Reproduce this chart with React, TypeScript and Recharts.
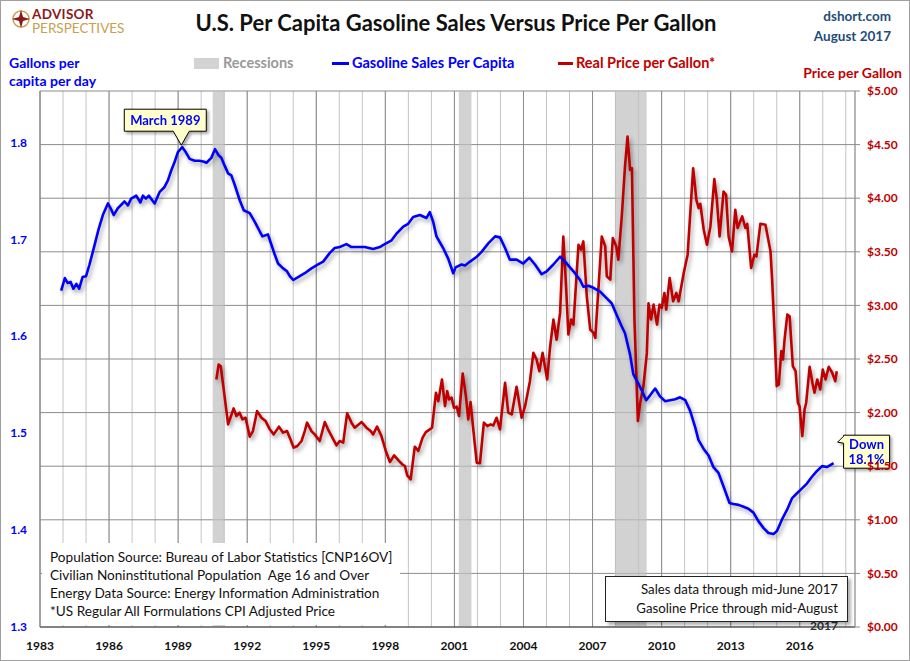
import { LineChart, Line, XAxis, YAxis, CartesianGrid, ReferenceArea, ReferenceLine, ReferenceDot } from 'recharts';

// gallons per capita per day (decimal year, value)
const salesDates = [
  1983.92, 1984.08, 1984.2, 1984.33, 1984.45, 1984.58, 1984.7, 1984.85, 1985.0, 1985.15,
  1985.37, 1985.54, 1985.73, 1985.95, 1986.07, 1986.2, 1986.38, 1986.67, 1986.82, 1986.96,
  1987.18, 1987.36, 1987.47, 1987.6, 1987.73, 1987.98, 1988.2, 1988.41, 1988.56, 1988.7,
  1988.85, 1988.99, 1989.18, 1989.33, 1989.5, 1989.72, 1989.93, 1990.13, 1990.23, 1990.44,
  1990.6, 1990.75, 1990.88, 1991.02, 1991.17, 1991.31, 1991.46, 1991.68, 1991.85, 1992.11,
  1992.33, 1992.55, 1992.66, 1992.9, 1993.0, 1993.2, 1993.34, 1993.56, 1993.73, 1993.85,
  1994.0, 1994.21, 1994.5, 1994.79, 1995.08, 1995.3, 1995.59, 1995.8, 1996.02, 1996.31,
  1996.53, 1996.75, 1997.11, 1997.47, 1997.76, 1997.9, 1998.27, 1998.49, 1998.78, 1998.99,
  1999.21, 1999.5, 1999.79, 1999.93, 2000.08, 2000.22, 2000.51, 2000.73, 2000.95, 2001.05,
  2001.31, 2001.46, 2001.68, 2001.97, 2002.18, 2002.48, 2002.77, 2002.98, 2003.2, 2003.41,
  2003.7, 2003.99, 2004.25, 2004.5, 2004.79, 2005.01, 2005.3, 2005.59, 2005.88, 2006.17,
  2006.46, 2006.6, 2006.82, 2007.04, 2007.33, 2007.62, 2007.83, 2008.05, 2008.25, 2008.41,
  2008.63, 2008.77, 2008.99, 2009.14, 2009.33, 2009.5, 2009.72, 2009.93, 2010.15, 2010.37,
  2010.59, 2010.8, 2011.03, 2011.24, 2011.46, 2011.6, 2011.82, 2012.04, 2012.25, 2012.47,
  2012.69, 2012.95, 2013.12, 2013.34, 2013.56, 2013.77, 2013.99, 2014.21, 2014.43, 2014.64,
  2014.86, 2015.01, 2015.23, 2015.45, 2015.67, 2015.88, 2016.1, 2016.31, 2016.53, 2016.75,
  2016.97, 2017.18, 2017.47,
];
const salesValues = [
  1.647, 1.66, 1.655, 1.656, 1.649, 1.654, 1.649, 1.661, 1.662, 1.674,
  1.694, 1.71, 1.725, 1.737, 1.732, 1.725, 1.732, 1.739, 1.735, 1.742,
  1.745, 1.738, 1.745, 1.742, 1.745, 1.737, 1.749, 1.754, 1.761, 1.771,
  1.78, 1.79, 1.795, 1.79, 1.783, 1.781, 1.781, 1.78, 1.779, 1.784,
  1.793, 1.787, 1.784, 1.776, 1.768, 1.766, 1.756, 1.74, 1.73, 1.727,
  1.718, 1.708, 1.703, 1.705, 1.698, 1.684, 1.675, 1.67, 1.667, 1.662,
  1.658, 1.661, 1.665, 1.67, 1.674, 1.677, 1.686, 1.691, 1.692, 1.695,
  1.692, 1.692, 1.692, 1.69, 1.692, 1.694, 1.699, 1.706, 1.713, 1.716,
  1.723, 1.725, 1.722, 1.728, 1.718, 1.703, 1.691, 1.68, 1.665, 1.671,
  1.674, 1.673, 1.677, 1.682, 1.687, 1.696, 1.703, 1.702, 1.691, 1.679,
  1.679, 1.675, 1.681, 1.674, 1.664, 1.667, 1.674, 1.682, 1.675, 1.667,
  1.658, 1.651, 1.652, 1.65, 1.646, 1.639, 1.634, 1.622, 1.611, 1.603,
  1.581, 1.561, 1.551, 1.544, 1.534, 1.539, 1.546, 1.538, 1.533, 1.534,
  1.535, 1.537, 1.534, 1.523, 1.506, 1.493, 1.484, 1.477, 1.465, 1.459,
  1.445, 1.428, 1.427, 1.426, 1.424, 1.422, 1.418, 1.409, 1.402, 1.397,
  1.396, 1.399, 1.411, 1.421, 1.433, 1.438, 1.443, 1.448, 1.455, 1.461,
  1.466, 1.465, 1.469,
];

// real price per gallon, $ (decimal year, value)
const priceDates = [
  1990.66, 1990.76, 1990.85, 1990.98, 1991.17, 1991.27, 1991.41, 1991.53, 1991.67, 1991.79,
  1991.93, 1992.11, 1992.25, 1992.43, 1992.62, 1992.8, 1992.98, 1993.15, 1993.38, 1993.56,
  1993.73, 1993.88, 1994.02, 1994.18, 1994.36, 1994.5, 1994.6, 1994.79, 1994.93, 1995.15,
  1995.37, 1995.51, 1995.7, 1995.88, 1996.02, 1996.17, 1996.34, 1996.53, 1996.67, 1996.97,
  1997.18, 1997.36, 1997.47, 1997.64, 1997.83, 1998.02, 1998.2, 1998.38, 1998.59, 1998.73,
  1998.85, 1998.95, 1999.1, 1999.28, 1999.43, 1999.62, 1999.76, 1999.93, 2000.03, 2000.2,
  2000.3, 2000.46, 2000.59, 2000.69, 2000.77, 2000.88, 2000.98, 2001.1, 2001.2, 2001.36,
  2001.5, 2001.6, 2001.7, 2001.82, 2001.97, 2002.11, 2002.28, 2002.43, 2002.57, 2002.69,
  2002.83, 2002.98, 2003.2, 2003.34, 2003.49, 2003.7, 2003.92, 2004.07, 2004.28, 2004.43,
  2004.57, 2004.69, 2004.83, 2005.03, 2005.15, 2005.3, 2005.44, 2005.59, 2005.73, 2005.85,
  2005.95, 2006.07, 2006.17, 2006.39, 2006.5, 2006.6, 2006.75, 2006.9, 2007.04, 2007.12,
  2007.4, 2007.55, 2007.62, 2007.77, 2007.88, 2008.03, 2008.12, 2008.27, 2008.41, 2008.52,
  2008.63, 2008.71, 2008.82, 2008.97, 2009.07, 2009.21, 2009.36, 2009.43, 2009.54, 2009.65,
  2009.8, 2009.91, 2010.01, 2010.12, 2010.2, 2010.35, 2010.5, 2010.64, 2010.74, 2010.96,
  2011.13, 2011.37, 2011.51, 2011.61, 2011.68, 2011.83, 2011.97, 2012.12, 2012.29, 2012.4,
  2012.52, 2012.69, 2012.8, 2012.91, 2013.06, 2013.2, 2013.3, 2013.5, 2013.64, 2013.72,
  2013.89, 2014.03, 2014.12, 2014.29, 2014.51, 2014.73, 2014.8, 2014.9, 2015.0, 2015.09,
  2015.2, 2015.27, 2015.34, 2015.46, 2015.56, 2015.7, 2015.82, 2015.92, 2015.99, 2016.11,
  2016.21, 2016.28, 2016.43, 2016.55, 2016.64, 2016.76, 2016.89, 2017.0, 2017.12, 2017.26,
  2017.41, 2017.54, 2017.61,
];
const priceValues = [
  2.309, 2.449, 2.433, 2.216, 1.89, 1.952, 2.039, 1.968, 1.999, 1.937,
  1.952, 1.776, 1.828, 2.014, 1.952, 1.921, 1.844, 1.797, 1.869, 1.813,
  1.828, 1.75, 1.673, 1.688, 1.735, 1.828, 1.906, 1.828, 1.797, 1.735,
  1.912, 1.844, 1.766, 1.695, 1.735, 1.72, 1.993, 1.906, 1.859, 1.912,
  1.859, 1.828, 1.797, 1.869, 1.781, 1.642, 1.539, 1.601, 1.549, 1.518,
  1.502, 1.415, 1.378, 1.682, 1.642, 1.766, 1.818, 1.844, 1.859, 2.185,
  2.107, 2.309, 2.06, 2.2, 2.123, 2.139, 2.046, 2.055, 1.968, 2.365,
  2.154, 1.937, 2.098, 1.844, 1.533, 1.527, 1.906, 1.874, 1.89, 1.88,
  1.952, 1.844, 2.278, 1.999, 1.983, 2.241, 1.952, 2.06, 2.293, 2.557,
  2.495, 2.386, 2.557, 2.309, 2.6, 2.868, 2.68, 2.93, 3.643, 3.178,
  2.728, 2.868, 2.821, 3.566, 3.52, 3.597, 3.085, 2.775, 2.744, 2.697,
  3.643, 3.55, 3.271, 3.24, 3.628, 3.55, 3.426, 3.83, 4.295, 4.575,
  4.264, 4.28, 2.868, 1.921, 2.092, 2.247, 2.557, 3.02, 2.868, 3.007,
  2.821, 3.007, 2.977, 3.116, 2.961, 3.256, 3.038, 3.116, 3.038, 3.303,
  3.473, 4.28, 3.985, 3.908, 3.948, 3.706, 3.566, 3.737, 4.178, 3.985,
  3.643, 4.062, 4.032, 3.643, 3.504, 3.892, 3.722, 3.83, 3.722, 3.76,
  3.349, 3.473, 3.457, 3.762, 3.752, 3.504, 3.24, 2.775, 2.247, 2.263,
  2.573, 2.495, 2.681, 2.914, 2.898, 2.433, 2.386, 2.092, 2.06, 1.781,
  2.03, 2.092, 2.427, 2.278, 2.185, 2.309, 2.216, 2.402, 2.309, 2.427,
  2.372, 2.293, 2.386,
];

const recessionStarts = [1990.5, 2001.19, 2007.97];
const recessionEnds = [1991.02, 2001.74, 2009.35];

const yearTicks = [
  1983, 1984, 1985, 1986, 1987, 1988, 1989, 1990, 1991, 1992, 1993, 1994,
  1995, 1996, 1997, 1998, 1999, 2000, 2001, 2002, 2003, 2004, 2005, 2006,
  2007, 2008, 2009, 2010, 2011, 2012, 2013, 2014, 2015, 2016, 2017, 2018,
];
const labelYears = [1983, 1986, 1989, 1992, 1995, 1998, 2001, 2004, 2007, 2010, 2013, 2016];
const salesTicks = [1.3, 1.4, 1.5, 1.6, 1.7, 1.8];
const priceTicks = [0, 0.5, 1, 1.5, 2, 2.5, 3, 3.5, 4, 4.5, 5];

const peakDate = 1989.18;
const peakValue = 1.795;

const salesData = salesDates.map((t, i) => ({ t, v: salesValues[i] }));
const priceData = priceDates.map((t, i) => ({ t, p: priceValues[i] }));

const FONT = 'Lato, "Open Sans", sans-serif';
const BLUE = '#0000ff';
const RED = '#c00000';

function PeakCallout(props: any) {
  const { cx, cy } = props;
  const left = cx - 58;
  const top = cy - 38;
  return (
    <g style={{ filter: 'drop-shadow(2px 2px 1.5px rgba(0,0,0,0.35))' }}>
      <path
        d={`M${left},${top} h82 v22 h-17 l-8,14 l-8,-14 h-49 z`}
        fill="#ffffcc"
        stroke="#000"
        strokeWidth={1}
      />
      <text x={left + 41} y={top + 16} textAnchor="middle" fontFamily={FONT} fontWeight={700} fontSize={13} fill={BLUE}>
        March 1989
      </text>
    </g>
  );
}

function DownCallout(props: any) {
  const { cx, cy } = props;
  const left = cx + 10;
  const top = cy - 28;
  return (
    <g style={{ filter: 'drop-shadow(2px 2px 1.5px rgba(0,0,0,0.35))' }}>
      <path
        d={`M${left},${top} h46 v33 h-46 v-25 l-6,-1 l6,-6 z`}
        fill="#ffffcc"
        stroke="#000"
        strokeWidth={1}
      />
      <text x={left + 23} y={top + 14} textAnchor="middle" fontFamily={FONT} fontWeight={700} fontSize={13} fill={BLUE}>
        Down
      </text>
      <text x={left + 23} y={top + 29} textAnchor="middle" fontFamily={FONT} fontWeight={700} fontSize={13} fill={BLUE}>
        18.1%
      </text>
    </g>
  );
}

export default function App() {
  const lastSales = salesData[salesData.length - 1];
  return (
    <div
      style={{
        position: 'absolute',
        left: 0,
        top: 0,
        width: 910,
        height: 661,
        background: '#fff',
        border: '1px solid #a0a0a0',
        boxSizing: 'border-box',
        fontFamily: FONT,
        overflow: 'hidden',
      }}
    >
      <style>{`.shadow-line path.recharts-curve { filter: drop-shadow(2px 3px 2px rgba(0,0,0,0.35)); }`}</style>
      <div style={{ position: 'absolute', left: -1, top: -1 }}>
        <LineChart width={910} height={661} margin={{ top: 91, right: 0, bottom: 4, left: 0 }}>
          <ReferenceArea yAxisId="right" x1={recessionStarts[0]} x2={recessionEnds[0]} y1={0} y2={5} fill="#c0c0c0" fillOpacity={0.72} stroke="none" />
          <ReferenceArea yAxisId="right" x1={recessionStarts[1]} x2={recessionEnds[1]} y1={0} y2={5} fill="#c0c0c0" fillOpacity={0.72} stroke="none" />
          <ReferenceArea yAxisId="right" x1={recessionStarts[2]} x2={recessionEnds[2]} y1={0} y2={5} fill="#c0c0c0" fillOpacity={0.72} stroke="none" />
          <CartesianGrid yAxisId="right" horizontal={false} vertical stroke="#c4c4c4" />
          <CartesianGrid yAxisId="right" horizontal vertical={false} stroke="#8c8c8c" />
          {labelYears.map((y) => (
            <ReferenceLine key={y} yAxisId="right" x={y} stroke="#8c8c8c" strokeWidth={1} />
          ))}
          <XAxis
            dataKey="t"
            type="number"
            domain={[1983, 2018.4]}
            ticks={yearTicks}
            interval={0}
            allowDataOverflow
            height={30}
            tickLine={false}
            tickMargin={8}
            axisLine={{ stroke: '#404040' }}
            tickFormatter={(v: number) => (labelYears.includes(v) ? String(v) : '')}
            tick={{ fill: '#111', fontSize: 12, fontWeight: 700, fontFamily: FONT }}
          />
          <YAxis
            yAxisId="left"
            orientation="left"
            type="number"
            width={40}
            domain={[1.3, 1.853]}
            ticks={salesTicks}
            allowDataOverflow
            tickLine={false}
            tickMargin={7}
            axisLine={{ stroke: '#8c8c8c' }}
            tickFormatter={(v: number) => v.toFixed(1)}
            tick={{ fill: BLUE, fontSize: 12, fontWeight: 700, fontFamily: FONT }}
          />
          <YAxis
            yAxisId="right"
            orientation="right"
            type="number"
            width={55}
            domain={[0, 5]}
            ticks={priceTicks}
            tickSize={5}
            tickMargin={7}
            tickLine={{ stroke: '#8c8c8c' }}
            axisLine={{ stroke: '#8c8c8c' }}
            tickFormatter={(v: number) => `$${v.toFixed(2)}`}
            tick={{ fill: RED, fontSize: 12, fontWeight: 700, fontFamily: FONT }}
          />
          <Line
            className="shadow-line"
            data={priceData}
            dataKey="p"
            yAxisId="right"
            type="linear"
            stroke={RED}
            strokeWidth={2.6}
            strokeLinejoin="round"
            dot={false}
            activeDot={false}
            isAnimationActive={false}
          />
          <Line
            className="shadow-line"
            data={salesData}
            dataKey="v"
            yAxisId="left"
            type="linear"
            stroke={BLUE}
            strokeWidth={2.6}
            strokeLinejoin="round"
            dot={false}
            activeDot={false}
            isAnimationActive={false}
          />
          <ReferenceDot yAxisId="left" x={peakDate} y={peakValue} shape={PeakCallout} />
          <ReferenceDot yAxisId="left" x={lastSales.t} y={lastSales.v} shape={DownCallout} />
        </LineChart>
      </div>

      {/* logo */}
      <svg style={{ position: 'absolute', left: 10, top: 8 }} width={20} height={20} viewBox="0 0 20 20">
        <circle cx={10} cy={10} r={8} fill="none" stroke="#c8a050" strokeWidth={1.5} />
        <path d="M10,1 L12,8 L19,10 L12,12 L10,19 L8,12 L1,10 L8,8 z" fill="#8b1a1a" />
      </svg>
      <div style={{ position: 'absolute', left: 31, top: 7, fontSize: 13.5, fontWeight: 700, color: '#8b1a1a', lineHeight: '12px', letterSpacing: 0.3 }}>
        ADVISOR
      </div>
      <div style={{ position: 'absolute', left: 31, top: 21, fontSize: 13.5, color: '#c8a050', lineHeight: '12px' }}>
        PERSPECTIVES
      </div>

      {/* title */}
      <div style={{ position: 'absolute', left: 0, top: 8, width: 910, textAlign: 'center', fontSize: 22, fontWeight: 700, color: '#111' }}>
        U.S. Per Capita Gasoline Sales Versus Price Per Gallon
      </div>
      <div style={{ position: 'absolute', right: 18, top: 5, textAlign: 'right', fontSize: 13.5, fontWeight: 700, color: '#1f4e79', lineHeight: '20px' }}>
        dshort.com
        <br />
        August 2017
      </div>

      {/* legend */}
      <div style={{ position: 'absolute', left: 193, top: 57, width: 25, height: 11, background: '#d3d3d3' }} />
      <div style={{ position: 'absolute', left: 222, top: 53, fontSize: 14.5, fontWeight: 700, color: '#9a9a9a', whiteSpace: 'nowrap' }}>Recessions</div>
      <div style={{ position: 'absolute', left: 331, top: 61, width: 17, height: 3, background: BLUE }} />
      <div style={{ position: 'absolute', left: 351, top: 53, fontSize: 14.5, fontWeight: 700, color: BLUE, whiteSpace: 'nowrap' }}>Gasoline Sales Per Capita</div>
      <div style={{ position: 'absolute', left: 557, top: 61, width: 15, height: 3, background: RED }} />
      <div style={{ position: 'absolute', left: 575, top: 53, fontSize: 14.5, fontWeight: 700, color: RED, whiteSpace: 'nowrap' }}>Real Price per Gallon*</div>

      {/* axis titles */}
      <div style={{ position: 'absolute', left: 8, top: 53, fontSize: 14, fontWeight: 700, color: BLUE, lineHeight: '18px' }}>
        Gallons per
        <br />
        capita per day
      </div>
      <div style={{ position: 'absolute', right: 7, top: 63, fontSize: 14, fontWeight: 700, color: RED, lineHeight: '18px' }}>
        Price per Gallon
      </div>

      {/* source notes */}
      <div style={{ position: 'absolute', left: 41, top: 542, width: 358, height: 82, background: '#fff', padding: '5px 0 0 8px', boxSizing: 'border-box', fontSize: 13.6, color: '#111', lineHeight: '18px', whiteSpace: 'nowrap' }}>
        Population Source: Bureau of Labor Statistics [CNP16OV]
        <br />
        Civilian Noninstitutional Population&nbsp; Age 16 and Over
        <br />
        Energy Data Source: Energy Information Administration
        <br />
        *US Regular All Formulations CPI Adjusted Price
      </div>

      <div style={{ position: 'absolute', left: 809, top: 617, fontSize: 12, fontWeight: 700, color: '#333' }}>2017</div>
      <div
        style={{
          position: 'absolute',
          left: 604,
          top: 575,
          width: 243,
          height: 46,
          background: '#fff',
          border: '1px solid #222',
          boxSizing: 'border-box',
          boxShadow: '3px 3px 3px rgba(0,0,0,0.3)',
          padding: '3px 9px 0 0',
          textAlign: 'right',
          fontSize: 13.2,
          color: '#111',
          lineHeight: '19px',
          whiteSpace: 'nowrap',
        }}
      >
        Sales data through mid-June 2017
        <br />
        Gasoline Price through mid-August
      </div>
    </div>
  );
}
